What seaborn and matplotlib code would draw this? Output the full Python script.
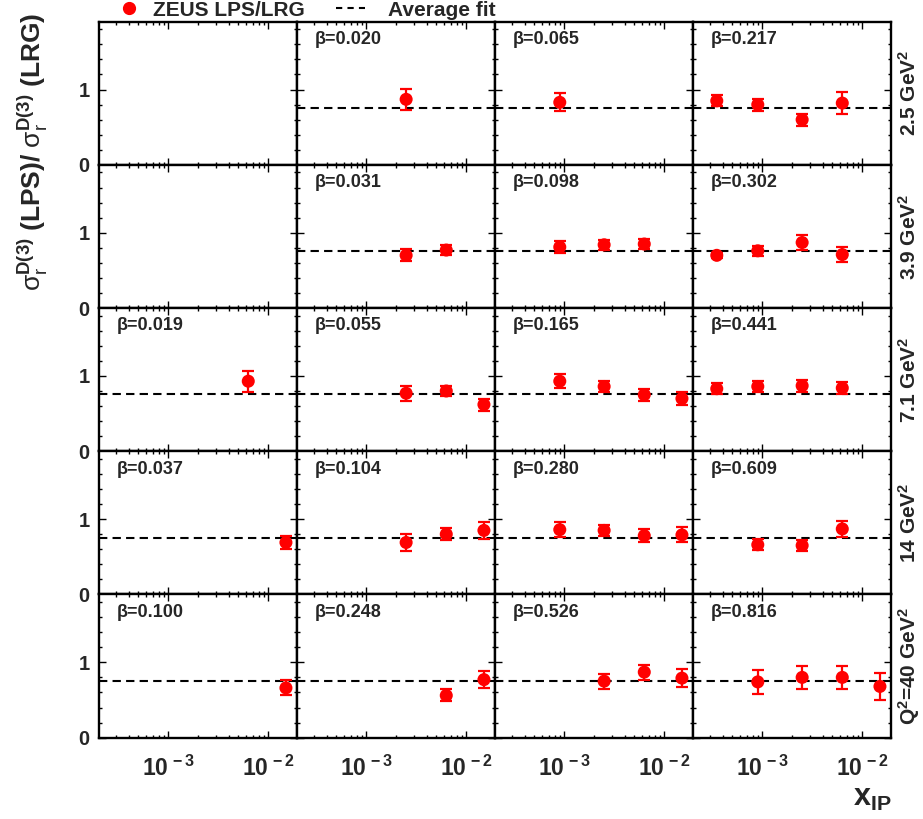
import matplotlib
matplotlib.use("Agg")
import matplotlib.pyplot as plt
import numpy as np
import pandas as pd
import seaborn as sns
from matplotlib.lines import Line2D
from matplotlib.ticker import FixedLocator, LogLocator, MultipleLocator, NullFormatter

# ---- data -----------------------------------------------------------------
q2_labels = ["2.5 GeV$^{\\mathbf{2}}$", "3.9 GeV$^{\\mathbf{2}}$", "7.1 GeV$^{\\mathbf{2}}$",
             "14 GeV$^{\\mathbf{2}}$", "Q$^{\\mathbf{2}}$=40 GeV$^{\\mathbf{2}}$"]
beta_labels = [
    [None, "0.020", "0.065", "0.217"],
    [None, "0.031", "0.098", "0.302"],
    ["0.019", "0.055", "0.165", "0.441"],
    ["0.037", "0.104", "0.280", "0.609"],
    ["0.100", "0.248", "0.526", "0.816"],
]
average_fit = 0.755

pt_row = [0, 0, 0, 0, 0, 0,
          1, 1, 1, 1, 1, 1, 1, 1, 1,
          2, 2, 2, 2, 2, 2, 2, 2, 2, 2, 2, 2,
          3, 3, 3, 3, 3, 3, 3, 3, 3, 3, 3,
          4, 4, 4, 4, 4, 4, 4, 4, 4, 4]
pt_col = [1, 2, 3, 3, 3, 3,
          1, 1, 2, 2, 2, 3, 3, 3, 3,
          0, 1, 1, 1, 2, 2, 2, 2, 3, 3, 3, 3,
          0, 1, 1, 1, 2, 2, 2, 2, 3, 3, 3,
          0, 1, 1, 2, 2, 2, 3, 3, 3, 3]
pt_xip = [2.5e-3, 9e-4, 3.5e-4, 9e-4, 2.5e-3, 6.3e-3,
          2.5e-3, 6.3e-3, 9e-4, 2.5e-3, 6.3e-3, 3.5e-4, 9e-4, 2.5e-3, 6.3e-3,
          6.3e-3, 2.5e-3, 6.3e-3, 1.5e-2, 9e-4, 2.5e-3, 6.3e-3, 1.5e-2, 3.5e-4, 9e-4, 2.5e-3, 6.3e-3,
          1.5e-2, 2.5e-3, 6.3e-3, 1.5e-2, 9e-4, 2.5e-3, 6.3e-3, 1.5e-2, 9e-4, 2.5e-3, 6.3e-3,
          1.5e-2, 6.3e-3, 1.5e-2, 2.5e-3, 6.3e-3, 1.5e-2, 9e-4, 2.5e-3, 6.3e-3, 1.5e-2]
pt_ratio = [0.87, 0.83, 0.85, 0.80, 0.60, 0.82,
            0.70, 0.77, 0.81, 0.84, 0.85, 0.70, 0.76, 0.87, 0.71,
            0.93, 0.77, 0.80, 0.62, 0.93, 0.86, 0.75, 0.70, 0.83, 0.86, 0.87, 0.84,
            0.69, 0.69, 0.80, 0.85, 0.86, 0.85, 0.78, 0.79, 0.66, 0.65, 0.87,
            0.66, 0.56, 0.77, 0.75, 0.87, 0.79, 0.74, 0.80, 0.80, 0.68]
pt_err = [0.14, 0.12, 0.075, 0.08, 0.08, 0.15,
          0.08, 0.07, 0.08, 0.07, 0.07, 0.03, 0.07, 0.10, 0.10,
          0.14, 0.10, 0.07, 0.08, 0.09, 0.07, 0.08, 0.09, 0.07, 0.07, 0.08, 0.08,
          0.09, 0.11, 0.08, 0.11, 0.10, 0.07, 0.09, 0.10, 0.07, 0.07, 0.11,
          0.10, 0.08, 0.11, 0.10, 0.10, 0.12, 0.16, 0.15, 0.15, 0.18]

xtick_values = [1e-3, 1e-2]
xtick_labels = [r"$\mathbf{10^{\,-3}}$", r"$\mathbf{10^{\,-2}}$"]
ytick_values = [0, 1]
ytick_labels = ["0", "1"]

# ---- style ----------------------------------------------------------------
sns.set_theme(style="ticks")
plt.rcParams["font.family"] = ["Liberation Sans", "DejaVu Sans"]
plt.rcParams["mathtext.fontset"] = "custom"
plt.rcParams["mathtext.rm"] = "Liberation Sans"
plt.rcParams["mathtext.it"] = "Liberation Sans:italic"
plt.rcParams["mathtext.bf"] = "Liberation Sans:bold"
plt.rcParams["mathtext.sf"] = "Liberation Sans"

RED = "#ff0000"

df = pd.DataFrame({"row": pt_row, "col": pt_col, "xip": pt_xip,
                   "ratio": pt_ratio, "err": pt_err})

fig, axes = plt.subplots(5, 4, figsize=(9.23, 8.19), dpi=100, sharex=True, sharey=True)
fig.subplots_adjust(left=0.1076, right=0.9657, top=0.9735, bottom=0.0993,
                    wspace=0, hspace=0)

for r in range(5):
    for c in range(4):
        ax = axes[r, c]
        ax.set_xscale("log")
        ax.set_xlim(2.04e-4, 1.95e-2)
        ax.set_ylim(0, 1.9)
        for sp in ax.spines.values():
            sp.set_linewidth(1.7)
            sp.set_color("black")
            sp.set_visible(True)
        b = beta_labels[r][c]
        if b is not None:
            ax.axhline(average_fit, color="black", lw=1.5, ls=(0, (4, 2.5)), zorder=1)
            ax.text(0.09, 0.875, "\u03b2=" + b, transform=ax.transAxes,
                    fontsize=13, fontweight="bold", ha="left", va="center")
            sub = df[(df["row"] == r) & (df["col"] == c)]
            ax.errorbar(sub["xip"], sub["ratio"], yerr=sub["err"], fmt="none",
                        ecolor=RED, elinewidth=1.6, capsize=4.3, capthick=1.6, zorder=3)
            sns.scatterplot(data=sub, x="xip", y="ratio", ax=ax, color=RED, s=88,
                            edgecolor="none", linewidth=0, zorder=4, legend=False)
        ax.set_xlabel("")
        ax.set_ylabel("")
        ax.xaxis.set_major_locator(FixedLocator(xtick_values))
        ax.xaxis.set_minor_locator(LogLocator(base=10, subs=np.arange(2, 10)))
        ax.xaxis.set_minor_formatter(NullFormatter())
        ax.yaxis.set_major_locator(FixedLocator(ytick_values))
        ax.yaxis.set_minor_locator(MultipleLocator(0.2))
        ax.tick_params(which="both", direction="in", top=True, right=True,
                       color="black", width=1.0)
        ax.tick_params(which="major", length=5)
        ax.tick_params(which="minor", length=2.5)
        if c == 3:
            ax.text(1.088, 0.5, q2_labels[r], transform=ax.transAxes, rotation=90,
                    fontsize=15, fontweight="bold", ha="center", va="center")

for ax in axes[-1, :]:
    ax.set_xticks(xtick_values, xtick_labels)
    ax.tick_params(axis="x", which="major", labelsize=16.5, pad=13, labelbottom=True)
for ax in axes[:, 0]:
    ax.set_yticks(ytick_values, ytick_labels, fontweight="bold")
    ax.tick_params(axis="y", which="major", labelsize=14.5, pad=7, labelleft=True)

# axis titles
sigma_part = r"$\mathrm{\sigma}_{\mathrm{r}}^{\mathbf{D(3)}}$"
fig.text(0.036, 0.815, sigma_part + " (LPS)/ " + sigma_part + " (LRG)",
         rotation=90, fontsize=19, fontweight="bold", ha="center", va="center")
fig.text(0.924, 0.016, r"$\mathbf{x_{IP}}$", fontsize=22, ha="left", va="baseline")

# legend row
h_pts = Line2D([], [], marker="o", color=RED, ls="none", markersize=8.5)
h_fit = Line2D([], [], color="black", lw=1.5, ls=(0, (3, 2.5)))
fig.legend([h_pts], ["ZEUS LPS/LRG"], loc="center left", bbox_to_anchor=(114 / 923, 1 - 10 / 819),
           frameon=False, borderpad=0, borderaxespad=0, handlelength=1.4, handletextpad=0.45,
           prop={"weight": "bold", "size": 15})
fig.legend([h_fit], ["Average fit"], loc="center left", bbox_to_anchor=(336 / 923, 1 - 10 / 819),
           frameon=False, borderpad=0, borderaxespad=0, handlelength=1.4, handletextpad=1.1,
           prop={"weight": "bold", "size": 15})

fig.savefig("out.png", dpi=100)
